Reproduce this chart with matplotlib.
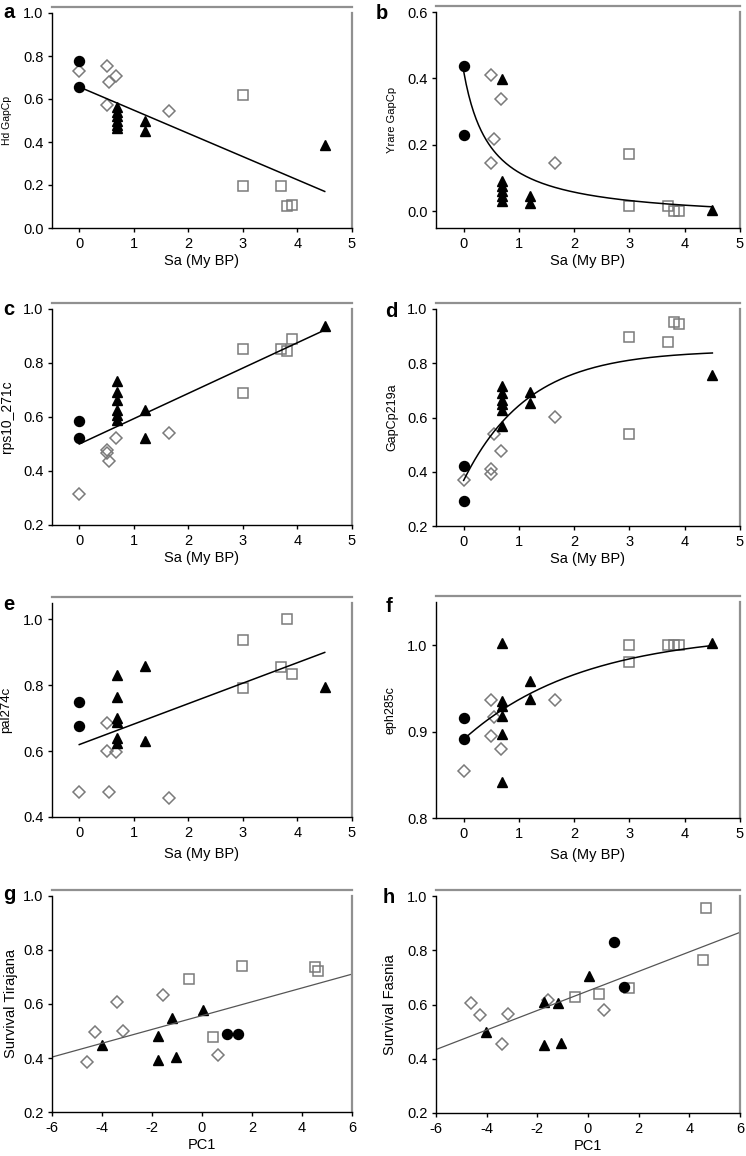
import numpy as np
import matplotlib.pyplot as plt
from matplotlib.ticker import FormatStrFormatter

plt.rcParams['font.family'] = ['Liberation Sans', 'DejaVu Sans']
plt.rcParams['axes.unicode_minus'] = False

# Sa (My BP) of each population group, panels a-f
sa_cir = [0, 0]
sa_tri = [0.7, 0.7, 0.7, 0.7, 0.7, 0.7, 1.2, 1.2, 4.5]
sa_sq = [3.0, 3.0, 3.7, 3.8, 3.9]
sa_dia = [0, 0.5, 0.5, 0.55, 0.67, 1.65]

# panel values (same order as the Sa lists)
a_cir = [0.778, 0.656]
a_tri = [0.565, 0.54, 0.52, 0.50, 0.48, 0.465, 0.50, 0.453, 0.385]
a_sq = [0.617, 0.194, 0.194, 0.101, 0.108]
a_dia = [0.732, 0.752, 0.573, 0.678, 0.709, 0.546]

b_cir = [0.439, 0.229]
b_tri = [0.397, 0.092, 0.075, 0.06, 0.045, 0.03, 0.047, 0.025, 0.005]
b_sq = [0.172, 0.017, 0.017, 0.0, 0.0]
b_dia = [np.nan, 0.411, 0.145, 0.217, 0.339, 0.145]

c_cir = [0.586, 0.522]
c_tri = [0.732, 0.691, 0.664, 0.627, 0.609, 0.590, 0.627, 0.522, 0.938]
c_sq = [0.853, 0.689, 0.853, 0.843, 0.889]
c_dia = [0.313, 0.479, 0.467, 0.437, 0.522, 0.541]

d_cir = [0.421, 0.291]
d_tri = [0.715, 0.69, 0.666, 0.648, 0.627, 0.568, 0.693, 0.654, 0.757]
d_sq = [0.896, 0.541, 0.88, 0.952, 0.946]
d_dia = [0.371, 0.411, 0.39, 0.541, 0.478, 0.602]

e_cir = [0.75, 0.675]
e_tri = [0.83, 0.765, 0.70, 0.69, 0.64, 0.625, 0.86, 0.63, 0.795]
e_sq = [0.938, 0.792, 0.855, 1.0, 0.835]
e_dia = [0.477, 0.685, 0.60, 0.477, 0.596, 0.457]

f_cir = [0.916, 0.891]
f_tri = [1.002, 0.935, 0.93, 0.918, 0.897, 0.842, 0.958, 0.938, 1.002]
f_sq = [1.0, 0.98, 1.0, 1.0, 1.0]
f_dia = [0.854, 0.936, 0.895, 0.917, 0.88, 0.936]

# PC1 scores, panels g-h
pc_cir = [1.01, 1.42]
pc_tri = [-4.02, -1.75, -1.75, -1.20, -1.05, 0.05]
pc_sq = [-0.52, 0.43, 1.60, 4.53, 4.65]
pc_dia = [-4.62, -4.28, -3.40, -3.15, -1.56, 0.63]

g_cir = [0.49, 0.49]
g_tri = [0.449, 0.480, 0.394, 0.547, 0.404, 0.578]
g_sq = [0.691, 0.477, 0.741, 0.738, 0.724]
g_dia = [0.387, 0.495, 0.609, 0.500, 0.632, 0.412]

h_cir = [0.831, 0.663]
h_tri = [0.50, 0.611, 0.452, 0.605, 0.457, 0.706]
h_sq = [0.628, 0.64, 0.662, 0.765, 0.956]
h_dia = [0.605, 0.56, 0.454, 0.566, 0.615, 0.578]

# fitted curves
fit_a = [0.656, -0.108]            # linear: intercept, slope
fit_b = [-0.03, 0.452, 0.4826]     # hyperbolic decay: y0, a, b
fit_c = [0.50, 0.0938]
fit_d = [0.368, 0.48, 0.856]       # exponential rise: y0, a, k
fit_e = [0.62, 0.0622]
fit_f = [0.891, 0.124, 0.464]
fit_g = [0.557, 0.0256]
fit_h = [0.65, 0.036]

ylabels = ['Hd GapCp', 'Yrare GapCp', 'rps10_271c', 'GapCp219a',
           'pal274c', 'eph285c', 'Survival Tirajana', 'Survival Fasnia']
letters = ['a', 'b', 'c', 'd', 'e', 'f', 'g', 'h']

W, H = 746, 1156
fig = plt.figure(figsize=(W / 100, H / 100), dpi=100)


def add_ax(l, t, r, b):
    return fig.add_axes([l / W, 1 - b / H, (r - l) / W, (b - t) / H])


boxes = [(52, 13, 352, 228), (436, 12, 740, 228),
         (52, 309, 352, 525), (436, 309, 740, 526),
         (52, 603, 352, 817), (436, 602, 740, 818),
         (52, 896, 352, 1112), (436, 896, 740, 1113)]
axs = [add_ax(*bx) for bx in boxes]

gray = '#7a7a7a'


def points(ax, xs, ys):
    ax.plot(xs[3], ys[3], 'D', ms=6.0, mfc='none', mec=gray, mew=1.1, ls='none')
    ax.plot(xs[2], ys[2], 's', ms=7.0, mfc='none', mec=gray, mew=1.1, ls='none')
    ax.plot(xs[1], ys[1], '^', ms=7.5, color='black', ls='none')
    ax.plot(xs[0], ys[0], 'o', ms=7.2, color='black', ls='none')


sa = [sa_cir, sa_tri, sa_sq, sa_dia]
pc = [pc_cir, pc_tri, pc_sq, pc_dia]
points(axs[0], sa, [a_cir, a_tri, a_sq, a_dia])
points(axs[1], sa, [b_cir, b_tri, b_sq, b_dia])
points(axs[2], sa, [c_cir, c_tri, c_sq, c_dia])
points(axs[3], sa, [d_cir, d_tri, d_sq, d_dia])
points(axs[4], sa, [e_cir, e_tri, e_sq, e_dia])
points(axs[5], sa, [f_cir, f_tri, f_sq, f_dia])
points(axs[6], pc, [g_cir, g_tri, g_sq, g_dia])
points(axs[7], pc, [h_cir, h_tri, h_sq, h_dia])

xs = np.linspace(0, 4.5, 200)
axs[0].plot(xs, fit_a[0] + fit_a[1] * xs, color='black', lw=1.1)
axs[1].plot(xs, fit_b[0] + fit_b[1] * fit_b[2] / (fit_b[2] + xs), color='black', lw=1.1)
axs[2].plot(xs, fit_c[0] + fit_c[1] * xs, color='black', lw=1.1)
axs[3].plot(xs, fit_d[0] + fit_d[1] * (1 - np.exp(-fit_d[2] * xs)), color='black', lw=1.1)
axs[4].plot(xs, fit_e[0] + fit_e[1] * xs, color='black', lw=1.1)
axs[5].plot(xs, fit_f[0] + fit_f[1] * (1 - np.exp(-fit_f[2] * xs)), color='black', lw=1.1)
xp = np.linspace(-6, 6, 50)
axs[6].plot(xp, fit_g[0] + fit_g[1] * xp, color='#555555', lw=0.9)
axs[7].plot(xp, fit_h[0] + fit_h[1] * xp, color='#555555', lw=0.9)

ylims = [(0, 1.0), (-0.05, 0.6), (0.2, 1.0), (0.2, 1.0),
         (0.4, 1.05), (0.8, 1.05), (0.2, 1.0), (0.2, 1.0)]
yticks = [np.arange(0, 1.01, 0.2), np.arange(0, 0.61, 0.2),
          np.arange(0.2, 1.01, 0.2), np.arange(0.2, 1.01, 0.2),
          np.arange(0.4, 1.01, 0.2), [0.8, 0.9, 1.0],
          np.arange(0.2, 1.01, 0.2), np.arange(0.2, 1.01, 0.2)]
ylab_size = [7.5, 8, 10, 9, 9.5, 9, 10.5, 10.5]
ylab_x = [-0.133, -0.127, -0.127, -0.125, -0.132, -0.131, -0.115, -0.127]
xlab_gap = [26, 26, 26, 26, 30, 30, 26, 26]

for i, ax in enumerate(axs):
    if i < 6:
        ax.set_xlim(-0.5, 5)
        ax.set_xticks(range(0, 6))
        ax.set_xlabel('Sa (My BP)', fontsize=10.5)
    else:
        ax.set_xlim(-6, 6)
        ax.set_xticks(range(-6, 7, 2))
        ax.set_xlabel('PC1', fontsize=10.5)
    ax.set_ylim(*ylims[i])
    ax.set_yticks(yticks[i])
    ax.yaxis.set_major_formatter(FormatStrFormatter('%.1f'))
    ax.set_ylabel(ylabels[i], fontsize=ylab_size[i])
    ax.yaxis.set_label_coords(ylab_x[i], 0.5)
    bx = boxes[i]
    ax.xaxis.set_label_coords(0.5, -xlab_gap[i] / (bx[3] - bx[1]))
    ax.spines['left'].set_color('black')
    ax.spines['bottom'].set_color('black')
    ax.spines['left'].set_linewidth(1.0)
    ax.spines['bottom'].set_linewidth(1.0)
    ax.spines['top'].set_position(('outward', 4.5))
    ax.spines['top'].set_color('#909090')
    ax.spines['top'].set_linewidth(1.6)
    ax.spines['right'].set_color('#909090')
    ax.spines['right'].set_linewidth(1.6)
    ax.tick_params(direction='out', length=3, width=1, labelsize=10.5, pad=3,
                   top=False, right=False)
    ax.tick_params(axis='x', pad=3.5)

# panel letters
letter_pos = [(9, 18), (382, 19), (9, 315), (391, 317),
              (9, 610), (389, 612), (9, 900), (389, 903)]
for lt, (x, y) in zip(letters, letter_pos):
    fig.text(x / W, 1 - y / H, lt, fontsize=14.5, fontweight='bold',
             ha='center', va='baseline')

fig.savefig('out.png', dpi=100)
